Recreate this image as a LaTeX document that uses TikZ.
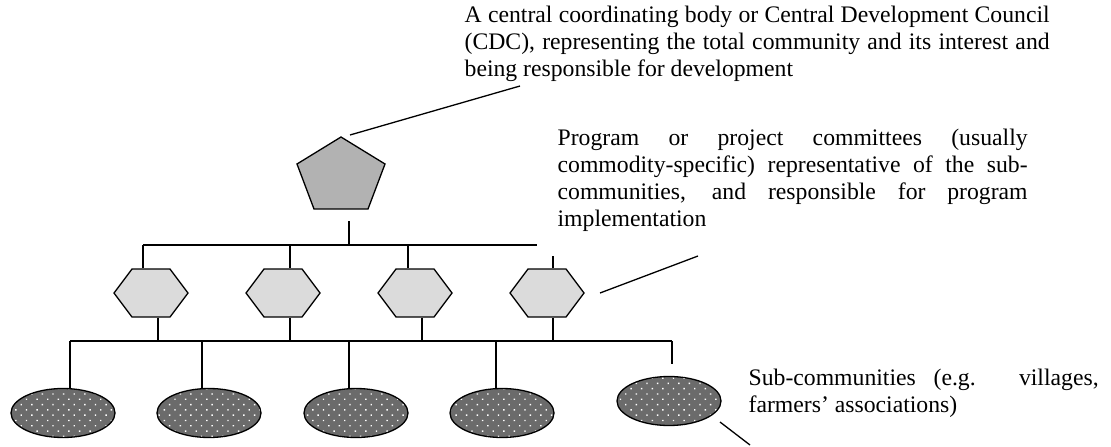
\documentclass[tikz,border=0pt]{standalone}
\usepackage{fontspec}
\setmainfont{Liberation Serif}
\usetikzlibrary{shapes.geometric, shapes.symbols, patterns.meta, positioning}

\tikzset{
  hexnode/.style={signal, signal to=east and west, signal pointer angle=106.26,
    minimum width=74pt, minimum height=48pt, inner sep=0pt, draw, fill=black!14},
  subnode/.style={ellipse, draw, minimum width=104pt, minimum height=49pt,
    inner sep=0pt, preaction={fill=black!58},
    pattern={Dots[distance=7.5pt, angle=45, radius=1pt]}, pattern color=white},
  textblock/.style={anchor=base west, inner sep=0pt, align=justify,
    font=\fontsize{23.7}{27}\selectfont}
}

\begin{document}
\begin{tikzpicture}[x=1pt, y=-1pt, line width=1.3pt]
  \useasboundingbox (0,0) rectangle (1111,447);
  % central body
  \draw[fill=black!30] (341,137) -- (385,164) -- (368,209) -- (314,209) -- (297,164) -- cycle;
  \coordinate (cdcstem) at (349,221);
  \coordinate (cdclead) at (350,135);
  % committees
  \node[hexnode] (h1) at (151,293) {};
  \node[hexnode] (h2) at (283,293) {};
  \node[hexnode] (h3) at (415,293) {};
  \node[hexnode] (h4) at (547,293) {};
  % sub-communities
  \node[subnode] (e1) at (63,413) {};
  \node[subnode] (e2) at (209,413) {};
  \node[subnode] (e3) at (356,413) {};
  \node[subnode] (e4) at (502,413) {};
  \node[subnode] (e5) at (669,401) {};
  % bars
  \coordinate (topbar) at (0,245);
  \coordinate (topend) at (537,245);
  \coordinate (botbar) at (0,341);
  \draw (cdcstem) -- (cdcstem |- topbar);
  \draw ([xshift=-8pt]h1.north |- topbar) -- (topend);
  \draw ([xshift=-8pt]h1.north) -- ([xshift=-8pt]h1.north |- topbar);
  \draw ([xshift=7pt]h2.north) -- ([xshift=7pt]h2.north |- topbar);
  \draw ([xshift=-7pt]h3.north) -- ([xshift=-7pt]h3.north |- topbar);
  \draw ([xshift=6pt]h4.north) -- ++(0,-12);
  \draw ([xshift=7pt]h1.south) -- ([xshift=7pt]h1.south |- botbar);
  \draw ([xshift=7pt]h2.south) -- ([xshift=7pt]h2.south |- botbar);
  \draw ([xshift=7pt]h3.south) -- ([xshift=7pt]h3.south |- botbar);
  \draw ([xshift=6pt]h4.south) -- ([xshift=6pt]h4.south |- botbar);
  \draw ([xshift=7pt]e1.north |- botbar) -- ([xshift=3pt]e5.north |- botbar);
  \draw ([xshift=7pt]e1.north |- botbar) -- ([xshift=7pt]e1.north);
  \draw ([xshift=-7pt]e2.north |- botbar) -- ([xshift=-7pt]e2.north);
  \draw ([xshift=-7pt]e3.north |- botbar) -- ([xshift=-7pt]e3.north);
  \draw ([xshift=-6pt]e4.north |- botbar) -- ([xshift=-6pt]e4.north);
  \draw ([xshift=3pt]e5.north |- botbar) -- ([xshift=3pt,yshift=12pt]e5.north);
  % leader lines
  \coordinate (cdcend) at (520,86);
  \coordinate (hexlead) at (600,293);
  \coordinate (hexend) at (698,256);
  \coordinate (sublead) at (720,422);
  \coordinate (subend) at (750,445);
  \draw (cdclead) -- (cdcend);
  \draw (hexlead) -- (hexend);
  \draw (sublead) -- (subend);
  % texts
  \node[textblock, text width=585pt] (cdctext) at (464,23)
    {A central coordinating body or Central Development Council\linebreak
     (CDC), representing the total community and its interest and\linebreak
     being responsible for development};
  \node[textblock, text width=470pt] (hextext) at (557,145)
    {Program or project committees (usually\linebreak
     commodity-specific) representative of the sub-\linebreak
     communities, and responsible for program\linebreak
     implementation};
  \node[textblock, text width=350pt] (subtext) at (748,385)
    {Sub-communities (e.g. villages,\linebreak
     farmers' associations)};
\end{tikzpicture}
\end{document}
